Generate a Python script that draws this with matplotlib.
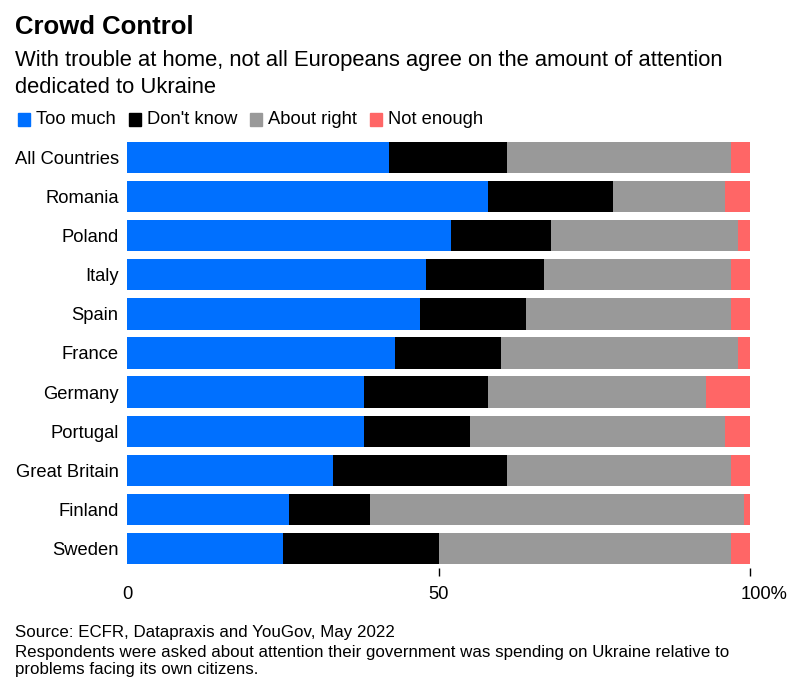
import matplotlib
matplotlib.use("Agg")
import matplotlib.pyplot as plt
import matplotlib.transforms as mtransforms
import numpy as np

countries = ["All Countries", "Romania", "Poland", "Italy", "Spain", "France",
             "Germany", "Portugal", "Great Britain", "Finland", "Sweden"]
too_much = [42, 58, 52, 48, 47, 43, 38, 38, 33, 26, 25]
dont_know = [19, 20, 16, 19, 17, 17, 20, 17, 28, 13, 25]
about_right = [36, 18, 30, 30, 33, 38, 35, 41, 36, 60, 47]
not_enough = [3, 5, 2, 3, 4, 2, 7, 4, 3, 1, 3]
series_names = ["Too much", "Don't know", "About right", "Not enough"]
colors = ["#0070FF", "#000000", "#999999", "#FF6666"]
xticks = [0, 50, 100]
xticklabels = ["0", "50", "100%"]

plt.rcParams['font.family'] = ['Liberation Sans', 'DejaVu Sans']

W, H = 807, 689
fig = plt.figure(figsize=(W/100, H/100), dpi=100)
ax = fig.add_axes([127/W, 1-568/H, 623/W, 430/H])

y = np.arange(len(countries))
left = np.zeros(len(countries))
for vals, name, c in zip([too_much, dont_know, about_right, not_enough], series_names, colors):
    ax.barh(y, vals, left=left, height=0.8, color=c, edgecolor="none", label=name)
    left += np.array(vals)

ax.set_ylim(len(countries)-0.5, -0.5)
ax.set_xlim(0, 100)
for s in ax.spines.values():
    s.set_visible(False)
ax.set_yticks(y)
ax.set_yticklabels(countries, fontsize=13.2)
ax.tick_params(axis='y', length=0, pad=6)
ax.set_xticks(xticks)
ax.set_xticklabels(xticklabels, fontsize=13.2)
ax.tick_params(axis='x', length=6, width=1, color="#000000", pad=7)
ax.xaxis.get_major_ticks()[0].tick1line.set_visible(False)
lab = ax.get_xticklabels()[-1]
lab.set_transform(lab.get_transform() + mtransforms.ScaledTranslation(14/100, 0, fig.dpi_scale_trans))

fig.text(15/W, 1-27/H, "Crowd Control", fontsize=18.5, fontweight='bold', va='center', ha='left')
fig.text(15/W, 1-74/H, "With trouble at home, not all Europeans agree on the amount of attention\ndedicated to Ukraine",
         fontsize=15.8, va='center', ha='left', linespacing=1.4)

# legend
lx = 18
for name, c in zip(series_names, colors):
    fig.patches.append(matplotlib.patches.Rectangle((lx/W, 1-126/H), 12/W, 13/H, color=c, transform=fig.transFigure))
    t = fig.text((lx+18)/W, 1-119.5/H, name, fontsize=13.2, va='center', ha='left')
    fig.canvas.draw()
    bb = t.get_window_extent()
    lx = bb.x1 + 13

fig.text(15/W, 1-633/H, "Source: ECFR, Datapraxis and YouGov, May 2022", fontsize=12.2, va='center', ha='left')
fig.text(15/W, 1-661/H, "Respondents were asked about attention their government was spending on Ukraine relative to\nproblems facing its own citizens.",
         fontsize=12.2, va='center', ha='left', linespacing=1.12)

fig.savefig("out.png", dpi=100, facecolor="white")
